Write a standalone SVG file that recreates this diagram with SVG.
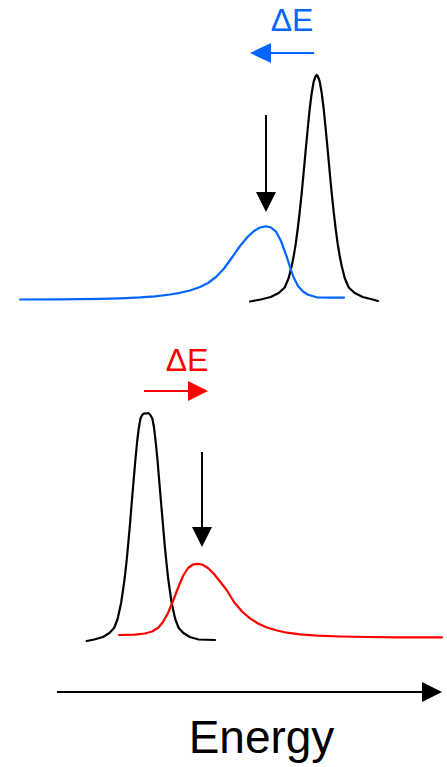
<svg xmlns="http://www.w3.org/2000/svg" width="447" height="767" viewBox="0 0 447 767">
<style>
.curve{fill:none;stroke-width:2.2;stroke-linejoin:round;stroke-linecap:round}
.k{stroke:#000}
.b{stroke:#0066ff}
.r{stroke:#ff0000}
.ln{stroke-width:2;fill:none}
.lbl{font-family:"Liberation Sans",Arial,sans-serif}
</style>
<rect width="447" height="767" fill="#fff"/>
<g id="top-reference-peak">
<polyline class="curve k" points="250,301.5 260.7,299.5 270.7,297 278.7,293 284.7,287.5 288.7,278 291.7,266 293.7,256 295.7,244 297.7,229 299.7,212 301.7,193 303.7,172 305.7,150 307.7,129 309.7,109 311.7,93 313.7,81.5 315.7,76 316.7,75 317.7,76 319.7,81.5 321.7,93 323.7,109 325.7,129 327.7,150 329.7,172 331.7,193 333.7,212 335.7,229 337.7,244 339.7,256 341.7,266 344.7,278 348.7,287.5 354.7,293 362.7,297 372.7,299.5 378,301"/>
</g>
<g id="top-shifted-peak">
<polyline class="curve b" points="20,299.5 60,299.3 100,298.8 120,298.3 140,297.4 155,296.3 170,294.5 180,292.8 190,290.5 200,287 208,283 216,277 224,268.5 232,257.5 240,246 248,236.5 254,231 260,227.5 266,226.3 271,227.5 276,231.7 281,241 286.7,256.7 290,267 293.3,276.7 298,286 303,291.5 308,294.7 316.7,297.3 330,297.6 344,297.6"/>
</g>
<g id="bottom-reference-peak">
<polyline class="curve k" points="86.7,641 94.2,639.5 103,637 109.4,633 114.1,628 117.6,619 121.1,603 122.9,591 124.7,578 126.5,562 128.2,544 130,524 131.7,503 133.5,482 135.3,461 137,443 138.8,428 140.5,418.5 142.3,414.8 144.2,413.3 146.3,413.5 148.3,413 150.3,415 152.3,418.5 154.1,428 155.8,443 157.6,461 159.3,482 161.1,503 162.9,524 164.6,544 166.4,562 168.1,578 169.9,591 171.7,603 175.2,619 178.7,628 183.4,633 189.8,637 198.6,639.5 215,640"/>
</g>
<g id="bottom-shifted-peak">
<polyline class="curve r" points="119,635 135,634.6 145,633.5 152,631.5 158,628 163,622 168,613 173,601 178,588 183,576 188,568 193,564.5 197,563.8 202,564.5 208,568 214,574 220,581.5 227,590.5 234,602 242,611.5 250,618.3 258,623.5 267,627.5 277,630.5 287,632.7 300,634.3 317,635.6 340,636.5 367,637 400,637.3 442,637.3"/>
</g>
<g id="connectors">
<g id="top-down-arrow">
<line class="ln" x1="266" y1="115" x2="266" y2="193" stroke="#000"/>
<polygon points="256,192 276,192 266,212" fill="#000"/>
</g>
<g id="blue-shift-arrow">
<line class="ln" x1="314" y1="53" x2="269" y2="53" stroke="#0066ff"/>
<polygon points="271,43 271,63 250,53" fill="#0066ff"/>
</g>
<g id="red-shift-arrow">
<line class="ln" x1="144" y1="391" x2="189" y2="391" stroke="#ff0000"/>
<polygon points="188,381 188,401 208,391" fill="#ff0000"/>
</g>
<g id="bottom-down-arrow">
<line class="ln" x1="202" y1="452" x2="202" y2="528" stroke="#000"/>
<polygon points="192,527 212,527 202,547" fill="#000"/>
</g>
<g id="energy-axis">
<line class="ln" x1="57" y1="692" x2="423" y2="692" stroke="#000"/>
<polygon points="422,682 422,702 442,692" fill="#000"/>
</g>
</g>
<g id="labels">
<text class="lbl" x="292" y="31" font-size="32" text-anchor="middle" fill="#0066ff">ΔE</text>
<text class="lbl" x="187" y="371" font-size="32" text-anchor="middle" fill="#ff0000">ΔE</text>
<text class="lbl" x="261.5" y="753" font-size="46" text-anchor="middle" fill="#000">Energy</text>
</g>
</svg>
